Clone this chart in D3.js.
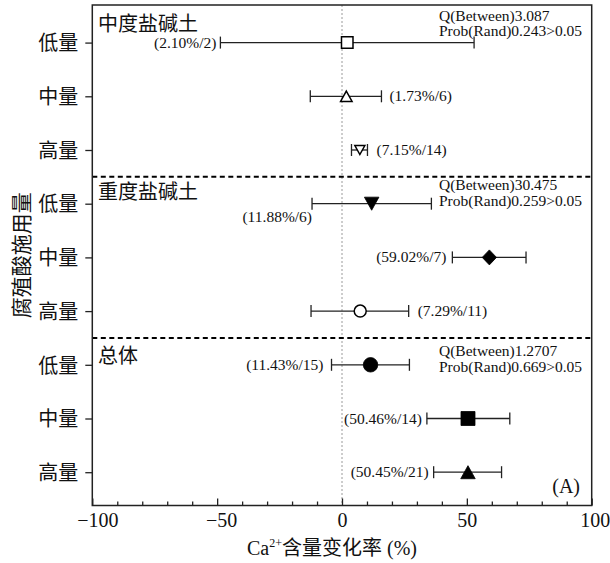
<!DOCTYPE html>
<html><head><meta charset="utf-8">
<script src="https://cdn.jsdelivr.net/npm/d3@7"></script>
<style>
html,body{margin:0;padding:0;background:#fff;}
svg{display:block;}
.serif{font-family:"Liberation Serif","Times New Roman",serif;}
.cjk{font-family:"Noto Sans CJK SC","Noto Sans",sans-serif;}
</style></head>
<body>
<svg id="chart" width="610" height="563"></svg>
<script>
// ---------- data ----------
const groups = ["中度盐碱土", "重度盐碱土", "总体"];
const levels = ["低量", "中量", "高量"];
const means   = [2.10, 1.73, 7.15, 11.88, 59.02, 7.29, 11.43, 50.46, 50.45];
const lowerCI = [-48.7, -12.7, 3.8, -12.0, 44.2, -12.4, -4.2, 34.0, 36.7];
const upperCI = [52.9, 15.8, 10.2, 35.8, 73.7, 26.7, 27.0, 67.2, 63.9];
const nStudies = [2, 6, 14, 6, 7, 11, 15, 14, 21];
const qBetween = ["3.087", "30.475", "1.2707"];
const probRand = ["0.243", "0.259", "0.669"];
const xTicks = [-100, -50, 0, 50, 100];
const xMinorTicks = d3.range(-90, 100, 10).filter(v => v % 50 !== 0);

// ---------- styles / layout ----------
const markerType = ["square", "triangle", "triangledown", "triangledown", "diamond", "circle", "circle", "square", "triangle"];
const markerFill = [false, false, false, true, true, false, true, true, true];
const markerSize = [13, 13, 11.5, 14.5, 15, 13.5, 14.5, 14, 14.5];
const labelSide = ["left", "right", "right", "below", "left", "right", "left", "left", "left"];
const labelGap  = [4, 8, 9, 0, 6, 9, 8, 5, 5];
const qBaseline = [20.5, 190, 356];
const tickLabelShift = [5, 4, 0, 0, 3];

const W = 610, H = 563;
const L = 92.3, R = 591.7, T = 5, B = 505.5;
const svg = d3.select("#chart");

const x = d3.scaleLinear().domain([-100, 100]).range([L, R]);
const y = d3.scaleLinear().domain([-0.7, 8.62]).range([T, B]);

// zero reference line
svg.append("line")
  .attr("x1", x(0)).attr("x2", x(0)).attr("y1", T).attr("y2", B)
  .attr("stroke", "#9a9a9a").attr("stroke-width", 1).attr("stroke-dasharray", "2,2");

// group separators
[2.5, 5.5].forEach(v => {
  svg.append("line")
    .attr("x1", L).attr("x2", R).attr("y1", y(v)).attr("y2", y(v))
    .attr("stroke", "#000").attr("stroke-width", 2).attr("stroke-dasharray", "5,3.5");
});

// x axis (ticks inward)
const gx = svg.append("g").attr("transform", `translate(0,${B})`);
gx.call(d3.axisBottom(x).tickValues(xMinorTicks).tickSize(-4).tickSizeOuter(0).tickFormat(""));
gx.select(".domain").remove();
const gx2 = svg.append("g").attr("transform", `translate(0,${B})`);
gx2.call(d3.axisBottom(x).tickValues(xTicks).tickSize(-7).tickSizeOuter(0).tickPadding(7.3));
gx2.select(".domain").remove();
gx.selectAll("line").attr("stroke", "#222").attr("stroke-width", 1.3);
gx2.selectAll("line").attr("stroke", "#222").attr("stroke-width", 1.3);
gx2.selectAll("text")
  .attr("class", "serif").attr("font-size", 20).attr("fill", "#111")
  .attr("dx", (d, i) => tickLabelShift[i]);

// y axis
const gy = svg.append("g").attr("transform", `translate(${L},0)`);
gy.call(d3.axisLeft(y).tickValues(d3.range(9)).tickSize(7).tickSizeOuter(0).tickPadding(7)
  .tickFormat(i => levels[i % 3]));
gy.select(".domain").remove();
gy.selectAll("line").attr("stroke", "#222").attr("stroke-width", 1.3);
gy.selectAll("text").attr("class", "cjk").attr("font-size", 20).attr("fill", "#111").attr("dy", "0.36em");

// frame
svg.append("rect").attr("x", L).attr("y", T).attr("width", R - L).attr("height", B - T)
  .attr("fill", "none").attr("stroke", "#222").attr("stroke-width", 1.5);

// error bars
const rows = d3.range(means.length);
const capH = 6;
const eb = svg.append("g").attr("stroke", "#222").attr("stroke-width", 1.3);
rows.forEach(i => {
  const yy = y(i);
  eb.append("line").attr("x1", x(lowerCI[i])).attr("x2", x(upperCI[i])).attr("y1", yy).attr("y2", yy);
  eb.append("line").attr("x1", x(lowerCI[i])).attr("x2", x(lowerCI[i])).attr("y1", yy - capH).attr("y2", yy + capH);
  eb.append("line").attr("x1", x(upperCI[i])).attr("x2", x(upperCI[i])).attr("y1", yy - capH).attr("y2", yy + capH);
});

// markers
function symPath(type, s) {
  const h = s / 2;
  switch (type) {
    case "square": return `M${-h},${-h}H${h}V${h}H${-h}Z`;
    case "triangle": { const hh = s * 0.45; return `M0,${-hh}L${h},${hh}L${-h},${hh}Z`; }
    case "triangledown": { const hh = s * 0.45; return `M${-h},${-hh}L${h},${-hh}L0,${hh}Z`; }
    case "diamond": return `M0,${-h}L${h * 0.95},0L0,${h}L${-h * 0.95},0Z`;
    case "circle": return `M${h},0A${h},${h} 0 1,1 ${-h},0A${h},${h} 0 1,1 ${h},0Z`;
  }
}
svg.append("g").selectAll("path").data(rows).join("path")
  .attr("transform", i => `translate(${x(means[i])},${y(i)})`)
  .attr("d", i => symPath(markerType[i], markerFill[i] ? markerSize[i] : markerSize[i] - 1.5))
  .attr("fill", i => markerFill[i] ? "#000" : "#fff")
  .attr("stroke", "#000").attr("stroke-width", i => markerFill[i] ? 0.8 : 1.5);

// value labels
svg.append("g").attr("class", "serif").attr("font-size", 15.5).attr("fill", "#111")
  .selectAll("text").data(rows).join("text")
  .text(i => `(${means[i].toFixed(2)}%/${nStudies[i]})`)
  .attr("x", i => labelSide[i] === "right" ? x(upperCI[i]) + labelGap[i] : x(lowerCI[i]) - labelGap[i])
  .attr("y", i => labelSide[i] === "below" ? y(i) + 18 : y(i) + 5)
  .attr("text-anchor", i => labelSide[i] === "right" ? "start" : "end");

// group titles
const titleY = [24, 192, 356];
svg.append("g").attr("class", "cjk").attr("font-size", 20).attr("fill", "#111")
  .selectAll("text").data(groups).join("text")
  .attr("x", 98).attr("y", (d, i) => titleY[i]).attr("dy", "0.36em").text(d => d);

// heterogeneity stats
const stats = svg.append("g").attr("class", "serif").attr("font-size", 15.5).attr("fill", "#111");
groups.forEach((g, i) => {
  stats.append("text").attr("x", 439).attr("y", qBaseline[i]).text(`Q(Between)${qBetween[i]}`);
  stats.append("text").attr("x", 439).attr("y", qBaseline[i] + 15.5).text(`Prob(Rand)${probRand[i]}>0.05`);
});

// panel label
svg.append("text").attr("class", "serif").attr("font-size", 20).attr("fill", "#111")
  .attr("x", 580).attr("y", 493).attr("text-anchor", "end").text("(A)");

// axis titles
const xt = svg.append("text").attr("x", 332).attr("y", 555).attr("text-anchor", "middle")
  .attr("font-size", 20).attr("fill", "#111");
xt.append("tspan").attr("class", "serif").text("Ca");
xt.append("tspan").attr("class", "serif").attr("font-size", 12).attr("dy", -8).text("2+");
xt.append("tspan").attr("class", "cjk").attr("dy", 8).text("含量变化率");
xt.append("tspan").attr("class", "serif").text(" (%)");

svg.append("text").attr("class", "cjk").attr("font-size", 21).attr("fill", "#111")
  .attr("text-anchor", "middle").attr("dy", "0.36em")
  .attr("transform", `translate(21,${(T + B) / 2}) rotate(-90)`)
  .text("腐殖酸施用量");
</script>
</body></html>
